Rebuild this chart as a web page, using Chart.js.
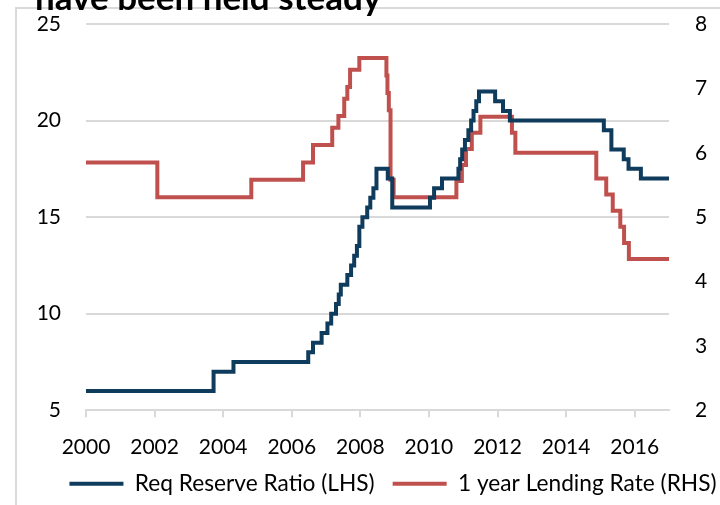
<!DOCTYPE html>
<html><head><meta charset="utf-8">
<script src="https://cdn.jsdelivr.net/npm/chart.js@4.4.0/dist/chart.umd.min.js"></script>
<style>
html,body{margin:0;padding:0;background:#fff;overflow:hidden;}
#wrap{position:relative;width:720px;height:505px;overflow:hidden;}
#frame{position:absolute;left:15px;top:7px;width:800px;height:600px;border-left:2px solid #d9d9d9;border-top:2px solid #d9d9d9;}
#title{position:absolute;left:35px;top:-21px;font-family:Lato;font-weight:bold;font-size:35px;line-height:35px;white-space:nowrap;color:#000;}
canvas{position:absolute;left:0;top:0;}
</style></head>
<body><div id="wrap"><div id="frame"></div><canvas id="c" width="720" height="505"></canvas><div id="title">have been held steady</div></div>
<script>
// Required reserve ratio (%), change dates as decimal years
const rrrDates  = [2000.0, 2003.72, 2004.3, 2006.48, 2006.62, 2006.87, 2007.04, 2007.15, 2007.29, 2007.37, 2007.43, 2007.62, 2007.73, 2007.82, 2007.9, 2007.97, 2008.06, 2008.2, 2008.29, 2008.38, 2008.47, 2008.8, 2008.93, 2010.03, 2010.15, 2010.38, 2010.86, 2010.91, 2010.97, 2011.05, 2011.15, 2011.23, 2011.3, 2011.38, 2011.46, 2011.93, 2012.16, 2012.36, 2015.1, 2015.32, 2015.68, 2015.82, 2016.18, 2017.0];
const rrrValues = [6, 7, 7.5, 8, 8.5, 9, 9.5, 10, 10.5, 11, 11.5, 12, 12.5, 13, 13.5, 14.5, 15, 15.5, 16, 16.5, 17.5, 17, 15.5, 16, 16.5, 17, 17.5, 18, 18.5, 19, 19.5, 20, 20.5, 21, 21.5, 21, 20.5, 20, 19.5, 18.5, 18, 17.5, 17, 17];
// 1 year lending rate (%)
const lendDates  = [2000.0, 2002.08, 2004.82, 2006.33, 2006.62, 2007.18, 2007.36, 2007.53, 2007.62, 2007.7, 2007.97, 2008.76, 2008.79, 2008.83, 2008.88, 2008.97, 2010.8, 2010.96, 2011.08, 2011.25, 2011.5, 2012.42, 2012.52, 2014.88, 2015.17, 2015.36, 2015.58, 2015.69, 2015.83, 2017.0];
const lendValues = [5.85, 5.31, 5.58, 5.85, 6.12, 6.39, 6.57, 6.84, 7.02, 7.29, 7.47, 7.2, 6.93, 6.66, 5.58, 5.31, 5.56, 5.81, 6.06, 6.31, 6.56, 6.31, 6.0, 5.6, 5.35, 5.1, 4.85, 4.6, 4.35, 4.35];
const leftTicks = [5, 10, 15, 20, 25];
const rightTicks = [2, 3, 4, 5, 6, 7, 8];
const seriesNames = ['Req Reserve Ratio (LHS)', '1 year Lending Rate (RHS)'];

const toPts = (xs, ys) => xs.map((x, i) => ({x: x, y: ys[i]}));
const font = {family: 'Lato', size: 21};
const gridCol = '#d9d9d9';

const legendShift = {
  id: 'legendShift',
  afterLayout(chart) {
    const lg = chart.legend;
    if (lg) { lg.left += 33; lg.right += 33; }
  }
};

new Chart(document.getElementById('c'), {
  type: 'line',
  data: {
    datasets: [
      {label: seriesNames[0], data: toPts(rrrDates, rrrValues), yAxisID: 'y', borderColor: '#0f3b5c', backgroundColor: '#0f3b5c', borderWidth: 4, pointRadius: 0, stepped: 'before', fill: false},
      {label: seriesNames[1], data: toPts(lendDates, lendValues), yAxisID: 'y1', borderColor: '#c0504d', backgroundColor: '#c0504d', borderWidth: 4, pointRadius: 0, stepped: 'before', fill: false}
    ]
  },
  plugins: [legendShift],
  options: {
    responsive: false, animation: false, devicePixelRatio: 1,
    layout: {padding: {top: 24, left: 0, right: 0, bottom: 0}},
    plugins: {
      tooltip: {enabled: false},
      legend: {
        position: 'bottom', align: 'center',
        labels: {
          boxWidth: 54, boxHeight: 4, font: {family: 'Lato', size: 22.7}, color: '#000', padding: 18,
          generateLabels(chart) {
            const items = Chart.defaults.plugins.legend.labels.generateLabels(chart);
            items.forEach(it => { it.lineWidth = 0; it.fillStyle = it.strokeStyle; });
            return items;
          }
        }
      }
    },
    scales: {
      x: {
        type: 'linear', min: 2000, max: 2017,
        ticks: {stepSize: 2, includeBounds: false, autoSkip: false, maxRotation: 0, callback: v => String(v), font: font, color: '#000', padding: 17},
        grid: {drawOnChartArea: false, drawTicks: true, tickLength: 7, color: gridCol, lineWidth: 2},
        border: {display: true, color: gridCol, width: 2},
        afterFit(s) { s.height = 44; }
      },
      y: {
        position: 'left', min: 5, max: 25,
        afterBuildTicks(s) { s.ticks = leftTicks.map(v => ({value: v})); },
        ticks: {font: font, color: '#000', padding: 25},
        grid: {color: gridCol, lineWidth: 2, drawTicks: false},
        border: {display: false},
        afterFit(s) { s.width = 86; s.paddingTop = 0; s.paddingBottom = 0; }
      },
      y1: {
        position: 'right', min: 2, max: 8,
        afterBuildTicks(s) { s.ticks = rightTicks.map(v => ({value: v})); },
        ticks: {font: font, color: '#000', padding: 26},
        grid: {drawOnChartArea: false, drawTicks: false},
        border: {display: false},
        afterFit(s) { s.width = 51; s.paddingTop = 0; s.paddingBottom = 0; }
      }
    }
  }
});
</script>
</body></html>
